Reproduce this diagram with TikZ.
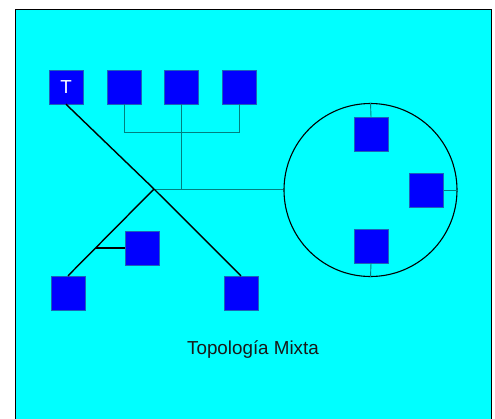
\documentclass[tikz,border=0pt]{standalone}
\usepackage{fontspec}
\setmainfont{Liberation Sans}
\definecolor{bgcyan}{RGB}{0,255,255}
\definecolor{boxblue}{RGB}{0,0,255}
\definecolor{busline}{RGB}{0,128,128}
\tikzset{
  station/.style={fill=boxblue, draw=cyan!40!boxblue, line width=0.4pt, minimum size=34pt, inner sep=0pt, text=white, font=\fontsize{18.8}{20}\selectfont},
  busl/.style={draw=busline, line width=0.9pt},
  trunk/.style={draw=black, line width=1.4pt},
}
\begin{document}
\begin{tikzpicture}[x=1pt,y=-1pt]
\useasboundingbox (0,0) rectangle (495,418);
\clip (0,0) rectangle (495,418);
\fill[white] (0,0) rectangle (495,418);
\draw[fill=bgcyan, line width=1pt] (15,9) rectangle (491,440);

% top bus stations
\node[station] (t)  at (66,87) {T};
\node[station] (b2) at (124,87) {};
\node[station] (b3) at (181,87) {};
\node[station] (b4) at (239,87) {};

% ring
\node[circle, draw=black, line width=1.1pt, minimum size=173pt, inner sep=0pt] (ring) at (370.5,190) {};
\node[station] (rtop) at (371,134) {};
\node[station] (rrt)  at (426.5,190) {};
\node[station] (rbot) at (371,246) {};

% lower tree stations
\node[station] (bl)  at (68,293) {};
\node[station] (mid) at (142,248) {};
\node[station] (br)  at (241,293) {};

\coordinate (J) at (154,189);
\coordinate (B) at (96,248);

% bus
\draw[busl] (b2.south) -- ++(0,28) -| (b4.south);
\draw[busl] (b3.south) -- (b3.south |- J);
\draw[busl] (J) -- (J -| ring.west);

% trunks
\draw[trunk] (t.south) -- (J);
\draw[trunk] (J) -- (br.north);
\draw[trunk] (J) -- (bl.north);
\draw[trunk] (B) -- (mid.west);

% ring ticks
\draw[busl] (ring.north) -- (rtop.north);
\draw[busl] (ring.south) -- (rbot.south);
\draw[busl] (rrt.east) -- (ring.east);

\node[font=\fontsize{18.8}{22}\selectfont, text=black!90] (title) at (253,350) {Topología Mixta};
\end{tikzpicture}
\end{document}
